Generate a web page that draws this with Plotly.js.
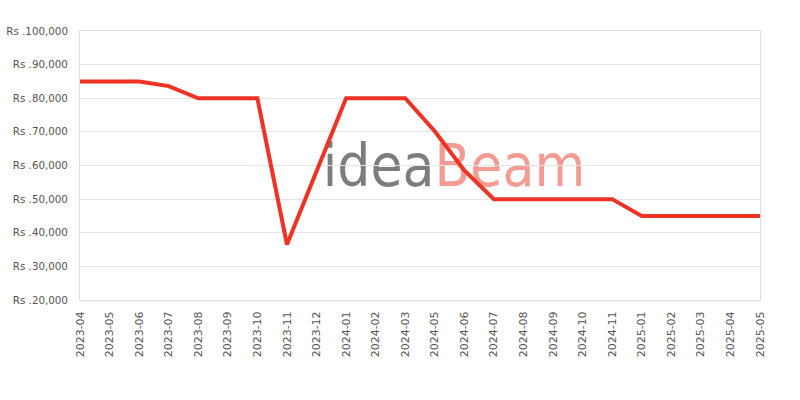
<!DOCTYPE html>
<html>
<head>
<meta charset="utf-8">
<script src="https://cdn.plot.ly/plotly-3.0.1.min.js"></script>
<style>html,body{margin:0;padding:0;background:#fff}#chart{width:800px;height:400px}</style>
</head>
<body>
<div id="chart"></div>
<script>
var months = ["2023-04","2023-05","2023-06","2023-07","2023-08","2023-09","2023-10","2023-11","2023-12",
  "2024-01","2024-02","2024-03","2024-05","2024-06","2024-07","2024-08","2024-09","2024-10","2024-11",
  "2025-01","2025-02","2025-03","2025-04","2025-05"];
var prices = [85000,85000,85000,83600,80000,80000,80000,36500,58200,
  80000,80000,80000,70200,58500,50000,50000,50000,50000,50000,
  45000,45000,45000,45000,45000];
var yTicks = [20000,30000,40000,50000,60000,70000,80000,90000,100000];
var yTickText = yTicks.map(function(v){ return 'Rs .' + v.toLocaleString('en-US'); });

var watermark = {
  x:[0.5], y:[0.33], xaxis:'x', yaxis:'y', mode:'text', hoverinfo:'skip', showlegend:false,
  text:['<span style="color:#7d7d7d">idea</span><span style="color:#f59b93">Beam</span>'],
  textfont:{family:'DejaVu Sans Condensed, Liberation Sans, sans-serif', size:58}
};
var line = {
  x: months, y: prices, xaxis:'x2', yaxis:'y2', type:'scatter', mode:'lines',
  line:{color:'rgb(238,51,36)', width:4}, hoverinfo:'x+y', showlegend:false
};
var xTickFont = {family:'DejaVu Sans, Verdana, sans-serif', size:11, color:'#555'};
var yTickFont = {family:'DejaVu Sans, Verdana, sans-serif', size:10.3, color:'#555'};
var layout = {
  width:800, height:400,
  margin:{l:80, r:40, t:31, b:100},
  paper_bgcolor:'#fff', plot_bgcolor:'rgba(0,0,0,0)',
  xaxis:{domain:[0.28,0.82], range:[0,1], visible:false, fixedrange:true},
  yaxis:{domain:[0.3,0.84], range:[0,1], visible:false, fixedrange:true},
  xaxis2:{type:'category', range:[0, months.length-1], anchor:'y2',
    showgrid:false, showline:true, mirror:true, linecolor:'#dddddd', linewidth:1,
    tickangle:-90, tickfont:xTickFont, ticks:'', ticklabelstandoff:6, zeroline:false},
  yaxis2:{range:[20000,100000], anchor:'x2', tickmode:'array', tickvals:yTicks, ticktext:yTickText,
    showgrid:true, gridcolor:'#e4e4e4', showline:true, mirror:true, linecolor:'#dddddd', linewidth:1,
    tickfont:yTickFont, ticks:'', ticklabelstandoff:9, zeroline:false}
};
Plotly.newPlot('chart', [watermark, line], layout, {displayModeBar:false, staticPlot:true});
</script>
</body>
</html>
